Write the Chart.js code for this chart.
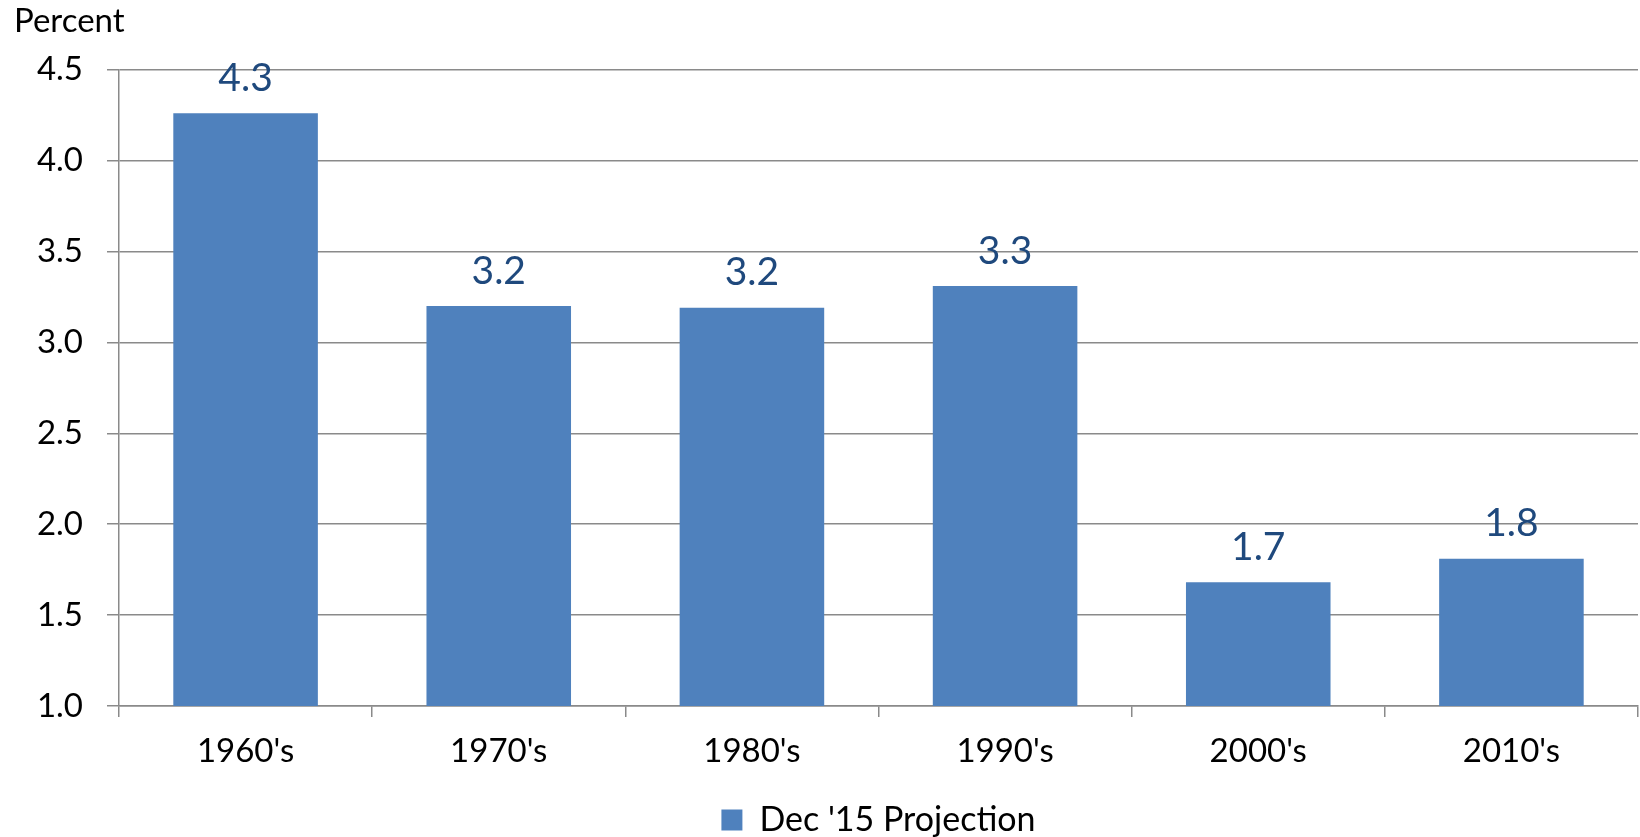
<!DOCTYPE html>
<html>
<head>
<meta charset="utf-8">
<title>Dec '15 Projection</title>
<script src="https://cdn.jsdelivr.net/npm/chart.js@4.4.1/dist/chart.umd.min.js"></script>
<style>
  html, body { margin: 0; padding: 0; background: #fff; }
  #wrap { width: 1640px; height: 837px; }
</style>
</head>
<body>
<div id="wrap"><canvas id="chart" width="1640" height="837"></canvas></div>
<script>
// ── DATA ────────────────────────────────────────────────────
const decades     = ["1960's", "1970's", "1980's", "1990's", "2000's", "2010's"];
const projection  = [4.26, 3.20, 3.19, 3.31, 1.68, 1.81];
const yTicks      = [1.0, 1.5, 2.0, 2.5, 3.0, 3.5, 4.0, 4.5];
const seriesLabel = "Dec '15 Projection";

const FONT = 'Lato, "Open Sans", sans-serif';
const GRID = '#8a8a8a';

// ── VALUE LABELS ABOVE BARS ─────────────────────────────────
const barLabels = {
  id: 'barLabels',
  afterDatasetsDraw(chart) {
    const { ctx } = chart;
    const meta = chart.getDatasetMeta(0);
    ctx.save();
    ctx.font = `39px ${FONT}`;
    ctx.fillStyle = '#1F497D';
    ctx.textAlign = 'center';
    ctx.textBaseline = 'middle';
    meta.data.forEach((bar, i) => {
      ctx.fillText(projection[i].toFixed(1), bar.x, bar.y - 35);
    });
    ctx.restore();
  }
};

new Chart(document.getElementById('chart'), {
  type: 'bar',
  data: {
    labels: decades,
    datasets: [{
      label: seriesLabel,
      data: projection,
      backgroundColor: '#4F81BD',
      borderWidth: 0,
      categoryPercentage: 1,
      barPercentage: 0.571,
    }]
  },
  options: {
    responsive: false,
    animation: false,
    layout: { padding: { left: 14, right: 2, top: 0, bottom: -10 } },
    plugins: {
      title: {
        display: true,
        text: 'Percent',
        align: 'start',
        color: '#000',
        font: { family: FONT, size: 33, weight: 'normal' },
        padding: { top: 2, bottom: 28 }
      },
      legend: {
        position: 'bottom',
        fullSize: false,
        labels: {
          color: '#000',
          font: { family: FONT, size: 34 },
          boxWidth: 21,
          boxHeight: 21,
          padding: 10
        }
      },
      tooltip: { enabled: false }
    },
    scales: {
      x: {
        grid: { display: true, drawOnChartArea: false, drawTicks: true, tickLength: 11, color: GRID, lineWidth: 1.5, offset: true },
        border: { display: true, color: GRID, width: 1.5 },
        ticks: { color: '#000', font: { family: FONT, size: 33 }, padding: 15, maxRotation: 0 },
        afterFit: axis => { axis.height = 87; }
      },
      y: {
        min: yTicks[0],
        max: yTicks[yTicks.length - 1],
        grid: { color: GRID, lineWidth: 1.5, tickLength: 12 },
        border: { display: true, color: GRID, width: 1.5 },
        ticks: {
          stepSize: 0.5,
          color: '#000',
          font: { family: FONT, size: 33 },
          padding: 24,
          callback: v => Number(v).toFixed(1)
        },
        afterFit: axis => { axis.width = 105; }
      }
    }
  },
  plugins: [barLabels]
});
</script>
</body>
</html>
